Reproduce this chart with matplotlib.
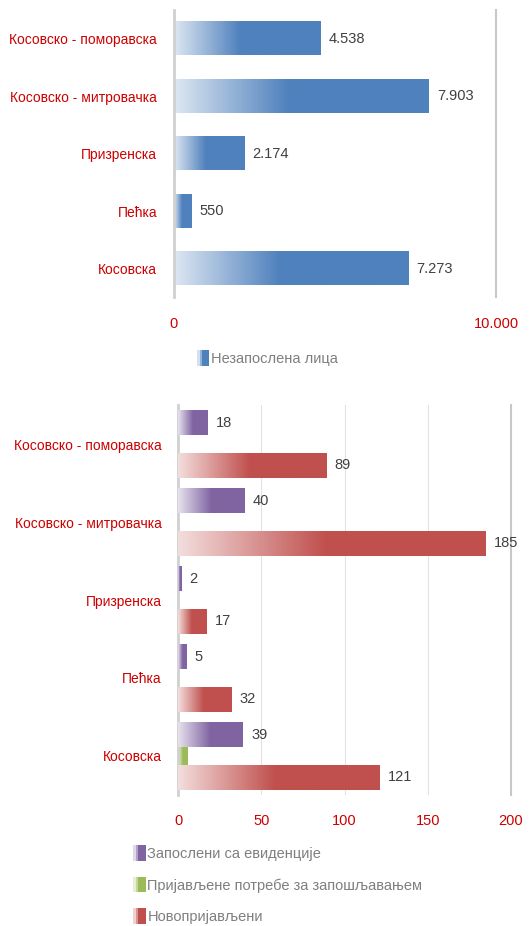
import numpy as np
import matplotlib
matplotlib.use("Agg")
import matplotlib.pyplot as plt
from matplotlib.colors import to_rgb
from matplotlib.patches import Patch, Rectangle
from matplotlib.legend_handler import HandlerBase

plt.rcParams["font.family"] = ["Liberation Sans Narrow", "Liberation Sans", "DejaVu Sans"]

# data
regions = ["Косовско - поморавска", "Косовско - митровачка", "Призренска", "Пећка", "Косовска"]
unemployed = [4538, 7903, 2174, 550, 7273]
employed = [18, 40, 2, 5, 39]
job_needs = [0, 0, 0, 0, 6]
new_reg = [89, 185, 17, 32, 121]

top_ticks = [0, 10000]
bottom_ticks = [0, 50, 100, 150, 200]

BLUE = "#4F81BD"
PURPLE = "#8064A2"
GREEN = "#9BBB59"
RED = "#C0504D"
LABEL_RED = "#CC0000"
VAL_GRAY = "#404040"
LEG_GRAY = "#7F7F7F"
AXIS_GRAY = "#D0D0D0"


def tint(color, f=0.8):
    c = np.array(to_rgb(color))
    return c + (1 - c) * f


def grad_bars(ax, bars, color, stop=0.48):
    """overlay an Excel-like light->full gradient on every bar"""
    n = 64
    t = np.clip(np.linspace(0, 1, n) / stop, 0, 1)[:, None]
    img = tint(color) * (1 - t) + np.array(to_rgb(color)) * t
    img = img[None, :, :]
    for b in bars:
        w = b.get_width()
        if w <= 0:
            continue
        x0, y0, h = b.get_x(), b.get_y(), b.get_height()
        ax.imshow(img, extent=(x0, x0 + w, y0 + h, y0), aspect="auto",
                  interpolation="bilinear", zorder=b.get_zorder() + 0.1)


def fmt(v):
    return f"{v:,}".replace(",", ".")


def label_bars(ax, bars, vals):
    for b, v in zip(bars, vals):
        ax.annotate(fmt(v), (b.get_width(), b.get_y() + b.get_height() / 2),
                    xytext=(6, 0), textcoords="offset points", va="center",
                    ha="left", fontsize=10.5, color=VAL_GRAY)


class GradHandler(HandlerBase):
    def create_artists(self, legend, orig_handle, xdescent, ydescent,
                       width, height, fontsize, trans):
        col = orig_handle.get_facecolor()[:3]
        arts = []
        parts = [(0.0, 0.2, 0.75), (0.2, 0.2, 0.4), (0.4, 0.6, 0.0)]
        for start, frac, f in parts:
            r = Rectangle((-xdescent + start * width, -ydescent - 1), frac * width + 0.3,
                          height + 2, facecolor=tint(col, f), edgecolor="none",
                          transform=trans)
            arts.append(r)
        return arts


def style_axis(ax, ticks, labels):
    for s in ("top", "bottom"):
        ax.spines[s].set_visible(False)
    ax.spines["left"].set_color(AXIS_GRAY)
    ax.spines["left"].set_linewidth(2)
    ax.spines["right"].set_color("#C8C8C8")
    ax.spines["right"].set_linewidth(1.5)
    ax.set_xticks(ticks)
    ax.set_xticklabels(labels)
    ax.tick_params(axis="both", length=0, labelcolor=LABEL_RED, labelsize=10)
    ax.tick_params(axis="x", pad=14, labelsize=10.5)
    ax.tick_params(axis="y", pad=12)


fig = plt.figure(figsize=(5.30, 9.26), dpi=100)

# ---------------------------------------------------------------- top chart
ax1 = fig.add_axes([0.328, 0.679, 0.608, 0.310])
y = np.arange(len(regions))
b1 = ax1.barh(y, unemployed, height=0.575, color=BLUE, zorder=2)
grad_bars(ax1, b1, BLUE, stop=0.45)
label_bars(ax1, b1, unemployed)
ax1.set_yticks(y)
ax1.set_yticklabels(regions)
ax1.set_xlim(0, 10000)
ax1.set_ylim(4.5, -0.5)
style_axis(ax1, top_ticks, [fmt(t) for t in top_ticks])

fig.legend(handles=[Patch(facecolor=BLUE)], labels=["Незапослена лица"],
           handler_map={Patch: GradHandler()}, loc="center",
           bbox_to_anchor=(0.505, 0.613), frameon=False, fontsize=10.5,
           handlelength=0.8, handleheight=1.0, handletextpad=0.15,
           labelcolor=LEG_GRAY)

# ------------------------------------------------------------- bottom chart
ax2 = fig.add_axes([0.336, 0.1415, 0.628, 0.4211])
off, h = 0.27, 0.32
g = ax2.barh(y, job_needs, height=h, color=GREEN, zorder=2)
p = ax2.barh(y - off, employed, height=h, color=PURPLE, zorder=3)
r = ax2.barh(y + off, new_reg, height=h, color=RED, zorder=3)
grad_bars(ax2, g, GREEN, stop=0.5)
grad_bars(ax2, p, PURPLE, stop=0.5)
grad_bars(ax2, r, RED, stop=0.48)
label_bars(ax2, p, employed)
label_bars(ax2, r, new_reg)
ax2.set_yticks(y)
ax2.set_yticklabels(regions)
ax2.set_xlim(0, 200)
ax2.set_ylim(4.5, -0.5)
for t in bottom_ticks[1:-1]:
    ax2.axvline(t, color="#E3E3E3", lw=0.8, zorder=0)
style_axis(ax2, bottom_ticks, [str(t) for t in bottom_ticks])

fig.legend(handles=[Patch(facecolor=PURPLE), Patch(facecolor=GREEN), Patch(facecolor=RED)],
           labels=["Запослени са евиденције", "Пријављене потребе за запошљавањем",
                   "Новопријављени"],
           handler_map={Patch: GradHandler()}, loc="center left",
           bbox_to_anchor=(0.238, 0.044), frameon=False, fontsize=10.5,
           handlelength=0.8, handleheight=1.0, handletextpad=0.15,
           labelspacing=1.15, borderpad=0, labelcolor=LEG_GRAY)

fig.savefig("out.png", dpi=100)
